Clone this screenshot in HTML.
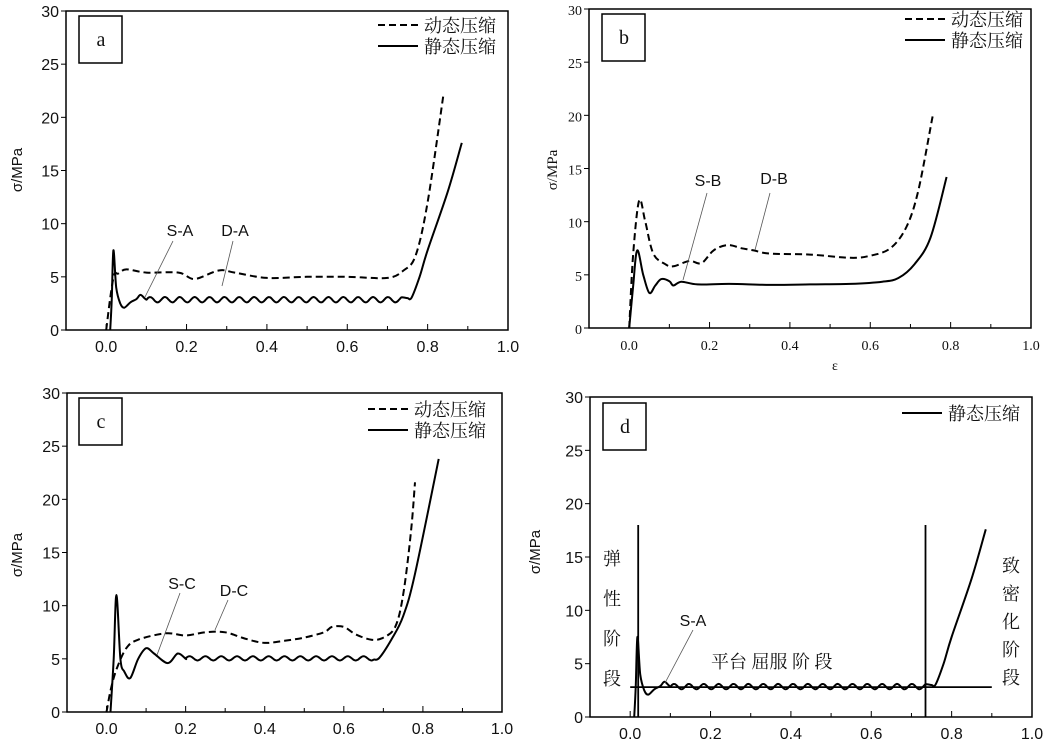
<!DOCTYPE html>
<html><head><meta charset="utf-8"><style>
body{margin:0;background:#fff}
svg{display:block}
text{font-family:"Liberation Sans","Noto Sans CJK SC",sans-serif;fill:#111}
.cn{font-family:"Liberation Serif","Noto Serif CJK SC","Noto Sans CJK SC",serif}
.sf{font-family:"Liberation Serif",serif}
</style></head><body>
<svg id="s" width="1045" height="739" viewBox="0 0 1045 739" xmlns="http://www.w3.org/2000/svg"></svg>
<script>
const S=document.getElementById('s');let h='';
function P(L,R,T,B){return {X:x=>L+(x+0.1)/1.1*(R-L),Y:y=>B-y/30*(B-T),L,R,T,B};}
function osc(x0,x1,base,amp,per){const pts=[];for(let x=x0;x<=x1;x+=0.004){pts.push([x,base+amp*Math.sin((x-x0)/per*2*Math.PI)]);}return pts;}
function path(p,pts,dash,w,smooth){const q=pts.map(v=>[p.X(v[0]),p.Y(v[1])]);let d='M'+q[0][0].toFixed(1)+','+q[0][1].toFixed(1);
for(let i=1;i<q.length;i++){if(smooth){const p0=q[Math.max(0,i-2)],p1=q[i-1],p2=q[i],p3=q[Math.min(q.length-1,i+1)];
const c1=[p1[0]+(p2[0]-p0[0])/6,p1[1]+(p2[1]-p0[1])/6],c2=[p2[0]-(p3[0]-p1[0])/6,p2[1]-(p3[1]-p1[1])/6];
d+=`C${c1[0].toFixed(1)},${c1[1].toFixed(1)} ${c2[0].toFixed(1)},${c2[1].toFixed(1)} ${p2[0].toFixed(1)},${p2[1].toFixed(1)}`;}else d+='L'+q[i][0].toFixed(1)+','+q[i][1].toFixed(1);}
h+=`<path d="${d}" fill="none" stroke="#000" stroke-width="${w||2}" stroke-linejoin="round" ${dash?'stroke-dasharray="7,4"':''}/>`;}
function axes(p,serif,lab,fs){h+=`<rect x="${p.L}" y="${p.T}" width="${p.R-p.L}" height="${p.B-p.T}" fill="none" stroke="#000" stroke-width="1.5"/>`;
const ff=serif?'class="sf"':'';
for(let i=0;i<=10;i++){const x=p.X(i/10);h+=`<line x1="${x}" y1="${p.B}" x2="${x}" y2="${p.B-(i%2?4:6)}" stroke="#000"/>`;
if(i%2==0)h+=`<text x="${x}" y="${p.B+22}" font-size="${fs}" text-anchor="middle" ${ff}>${(i/10).toFixed(1)}</text>`;}
for(let j=0;j<=6;j++){const y=p.Y(j*5);h+=`<line x1="${p.L-5}" y1="${y}" x2="${p.L}" y2="${y}" stroke="#000"/><text x="${p.L-7}" y="${y+6}" font-size="${fs}" text-anchor="end" ${ff}>${j*5}</text>`;}
}
function box(x,y,t){h+=`<rect x="${x}" y="${y}" width="43" height="47" fill="#fff" stroke="#000" stroke-width="1.5"/><text class="sf" x="${x+22}" y="${y+30}" font-size="20" text-anchor="middle">${t}</text>`;}
function leg(x,y,dyn){if(dyn){h+=`<line x1="${x}" y1="${y}" x2="${x+40}" y2="${y}" stroke="#000" stroke-width="2" stroke-dasharray="7,4"/><text class="cn" x="${x+46}" y="${y+7}" font-size="18">动态压缩</text>`;y+=21;}
h+=`<line x1="${x}" y1="${y}" x2="${x+40}" y2="${y}" stroke="#000" stroke-width="2"/><text class="cn" x="${x+46}" y="${y+7}" font-size="18">静态压缩</text>`;}
function ann(t,tx,ty,x1,y1,x2,y2){h+=`<text x="${tx}" y="${ty}" font-size="16" text-anchor="middle">${t}</text><line x1="${x1}" y1="${y1}" x2="${x2}" y2="${y2}" stroke="#555" stroke-width="0.8"/>`;}
function ylab(x,y,t,serif){h+=`<text x="${x}" y="${y}" font-size="15" text-anchor="middle" transform="rotate(-90 ${x} ${y})" ${serif?'class="sf"':''}>${t}</text>`;}
const sA=[[0.01,0],[0.014,3],[0.018,7.5],[0.025,4],[0.035,2.5],[0.045,2.1],[0.06,2.6],[0.075,2.9],[0.085,3.3],[0.095,3.0]].concat(osc(0.1,0.74,2.85,0.25,0.037)).concat([[0.75,3.0],[0.76,3.05],[0.78,5],[0.8,7.5],[0.85,13],[0.885,17.6]]);
let a=P(66,508,11,330);axes(a,false,1,16);
path(a,[[0,0],[0.01,3],[0.02,5.2],[0.03,5.3],[0.05,5.7],[0.1,5.4],[0.18,5.4],[0.22,4.8],[0.28,5.6],[0.32,5.4],[0.4,4.9],[0.5,5.0],[0.6,5.0],[0.7,4.9],[0.74,5.6],[0.77,7],[0.8,12],[0.84,22.3]],true,2,true);
path(a,sA,false,2,true);box(79,16,'a');leg(378,25,true);ylab(22,170,'σ/MPa');
ann('S-A',180,236,173,241,145,297);ann('D-A',235,236,233,241,222,286);
let b=P(589,1031,9,328);axes(b,true,1,14);
path(b,[[0,0],[0.01,7],[0.025,12],[0.04,10],[0.06,7],[0.09,6],[0.11,5.8],[0.15,6.3],[0.18,6.1],[0.21,7.3],[0.245,7.8],[0.28,7.5],[0.31,7.3],[0.35,7],[0.45,6.9],[0.55,6.6],[0.6,6.8],[0.65,7.5],[0.69,9.5],[0.72,13],[0.755,19.9]],true,2,true);
path(b,[[0,0],[0.01,4],[0.02,7.3],[0.035,5],[0.05,3.3],[0.065,4],[0.08,4.6],[0.1,4.4],[0.11,4.0],[0.13,4.35],[0.17,4.1],[0.25,4.15],[0.35,4.05],[0.45,4.1],[0.55,4.15],[0.63,4.35],[0.67,4.7],[0.71,6],[0.75,8.5],[0.79,14.2]],false,2,true);
box(602,14,'b');leg(905,19,true);ylab(557,170,'σ/MPa',true);
h+=`<text class="sf" x="835" y="370" font-size="14" text-anchor="middle">ε</text>`;
ann('S-B',708,186,707,193,683,280);ann('D-B',774,184,770,193,755,250);
let c=P(67,502,393,712);axes(c,false,1,16);
path(c,[[0,0],[0.01,2],[0.025,4],[0.05,6],[0.08,6.8],[0.15,7.4],[0.2,7.2],[0.25,7.5],[0.3,7.5],[0.35,6.9],[0.4,6.5],[0.45,6.7],[0.5,7],[0.55,7.5],[0.57,8],[0.6,8],[0.63,7.3],[0.67,6.8],[0.7,7],[0.73,8],[0.75,11],[0.77,17],[0.78,21.6]],true,2,true);
path(c,[[0.01,0],[0.018,5],[0.025,11],[0.035,5],[0.045,3.8],[0.06,3.2],[0.08,5],[0.1,6],[0.12,5.5],[0.155,4.6],[0.18,5.5],[0.2,5.0]].concat(osc(0.2,0.68,5.05,0.2,0.04)).concat([[0.69,5.1],[0.72,6.8],[0.75,9],[0.78,13],[0.84,23.8]]),false,2,true);
box(79,398,'c');leg(368,409,true);ylab(22,555,'σ/MPa');
ann('S-C',182,589,180,593,157,655);ann('D-C',234,596,228,600,215,630);
let d=P(590,1032,397,717);axes(d,false,1,16);
path(d,[[0,2.8],[0.9,2.8]],false,1.8);
path(d,[[0.02,0],[0.02,18]],false,1.8);path(d,[[0.735,0],[0.735,18]],false,1.8);
path(d,sA,false,2,true);box(603,403,'d');leg(902,413,false);ylab(540,552,'σ/MPa');
ann('S-A',693,626,693,630,665,683);
['弹','性','阶','段'].forEach((t,i)=>h+=`<text class="cn" x="612" y="${565+i*40}" font-size="18" text-anchor="middle">${t}</text>`);
['致','密','化','阶','段'].forEach((t,i)=>h+=`<text class="cn" x="1011" y="${572+i*28}" font-size="18" text-anchor="middle">${t}</text>`);
h+=`<text class="cn" x="711" y="668" font-size="18">平台  屈服  阶  段</text>`;
S.innerHTML=h;
</script>
</body></html>
